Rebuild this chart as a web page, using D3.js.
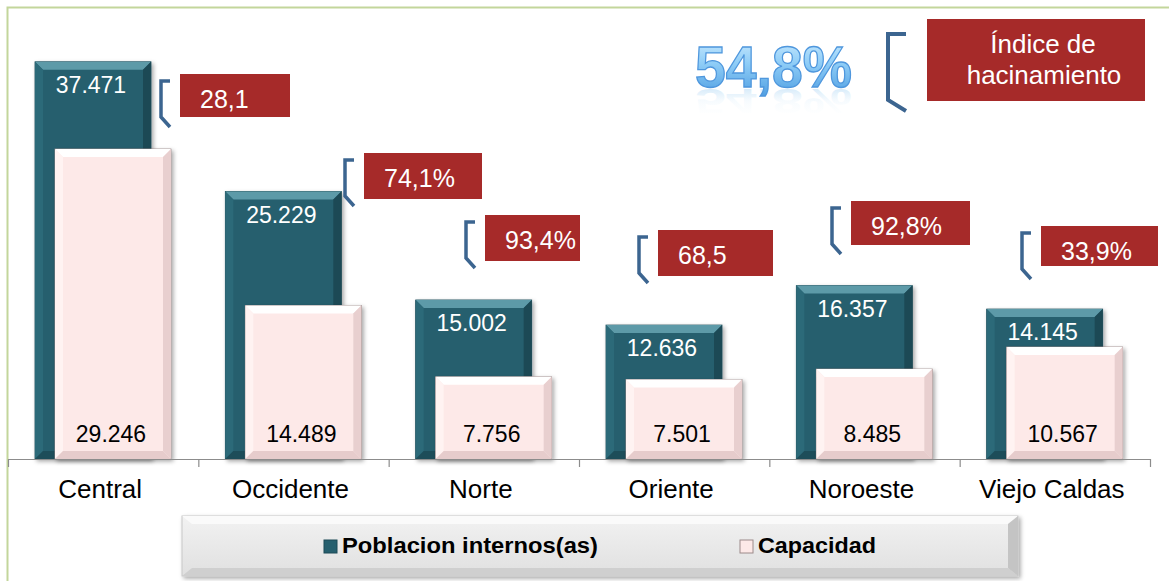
<!DOCTYPE html>
<html>
<head>
<meta charset="utf-8">
<script src="https://cdn.jsdelivr.net/npm/d3@7"></script>
<style>
  body { margin: 0; background: #fff; }
  svg { display: block; font-family: "Liberation Sans", Arial, sans-serif; }
</style>
</head>
<body>
<svg id="chart" width="1169" height="581"></svg>
<script>
// data
var categories = ['Central', 'Occidente', 'Norte', 'Oriente', 'Noroeste', 'Viejo Caldas'];
var poblacion = [37471, 25229, 15002, 12636, 16357, 14145];
var capacidad = [29246, 14489, 7756, 7501, 8485, 10567];
var hacinamiento = ['28,1', '74,1%', '93,4%', '68,5', '92,8%', '33,9%'];
var seriesNames = ['Poblacion internos(as)', 'Capacidad'];
var totalIndice = '54,8%';

// where the red call-out boxes sit (x, y, w, h) - layout, not data
var noteBoxes = [
  [180, 74, 110, 43],
  [364, 153, 118, 46],
  [485, 215, 95, 46],
  [658, 230, 115, 46],
  [851, 201, 119, 44],
  [1041, 226, 117, 40]
];

var fmt = function(v) { return d3.format(',')(v).replace(/,/g, '.'); };

var svg = d3.select('#chart');
var defs = svg.append('defs');

var x = d3.scaleBand().domain(categories).range([8, 1150]).padding(0);
var y = d3.scaleLinear().domain([0, 40000]).range([459, 35]);
var barW = 116, offset = 20, lead = 27;

// gradients
function lin(id, stops, x2, y2) {
  var g = defs.append('linearGradient').attr('id', id)
    .attr('x1', 0).attr('y1', 0).attr('x2', x2).attr('y2', y2);
  stops.forEach(function(s) { g.append('stop').attr('offset', s[0]).attr('stop-color', s[1]).attr('stop-opacity', s[2] == null ? 1 : s[2]); });
  return g;
}
lin('txtGrad', [[0, '#d2eeff'], [0.45, '#8fcdf7'], [1, '#4b9be0']], 0, 1);
lin('reflGrad', [[0, '#ffffff', 0], [0.5, '#a9d6f5', 0.1], [1, '#7fbdeb', 0.5]], 0, 1);
lin('legGrad', [[0, '#f2f2f2'], [1, '#e0e0e0']], 0, 1);
var sh = defs.append('filter').attr('id', 'shadow').attr('x', '-10%').attr('y', '-10%').attr('width', '130%').attr('height', '130%');
sh.append('feDropShadow').attr('dx', 2).attr('dy', 2).attr('stdDeviation', 2).attr('flood-color', '#000').attr('flood-opacity', 0.35);

// outer frame
svg.append('path').attr('d', 'M7.5,581 V7.5 H1169')
  .attr('fill', 'none').attr('stroke', '#c3d69b').attr('stroke-width', 2);

// bevelled bar
function bevelBar(g, x0, v, colors, bev) {
  var top = y(v), bot = y(0), w = barW;
  g.append('rect').attr('x', x0).attr('y', top).attr('width', w).attr('height', bot - top)
    .attr('fill', colors.face).attr('stroke', colors.stroke).attr('stroke-width', 0.8)
    .attr('filter', 'url(#shadow)');
  g.append('polygon').attr('points', [[x0, top], [x0 + w, top], [x0 + w - bev, top + bev], [x0 + bev, top + bev]].join(' '))
    .attr('fill', colors.top);
  g.append('polygon').attr('points', [[x0, top], [x0 + bev, top + bev], [x0 + bev, bot - bev], [x0, bot]].join(' '))
    .attr('fill', colors.left);
  g.append('polygon').attr('points', [[x0 + w, top], [x0 + w - bev, top + bev], [x0 + w - bev, bot - bev], [x0 + w, bot]].join(' '))
    .attr('fill', colors.right);
  g.append('polygon').attr('points', [[x0, bot], [x0 + bev, bot - bev], [x0 + w - bev, bot - bev], [x0 + w, bot]].join(' '))
    .attr('fill', colors.bottom);
}

var teal = { face: '#265f6e', stroke: '#1d4b57', top: '#5d9aa8', left: '#2c6a79', right: '#1c4955', bottom: '#1d4d59' };
var pink = { face: '#fde9e8', stroke: '#9c8a8a', top: '#ffffff', left: '#fff3f2', right: '#e8cfcf', bottom: '#e6cccc' };

var groups = svg.append('g').selectAll('g').data(categories).enter().append('g');
groups.each(function(c, i) {
  var g = d3.select(this);
  var bx = x(c) + lead;
  bevelBar(g, bx, poblacion[i], teal, 8);
  g.append('text').attr('x', bx + barW / 2 - 2).attr('y', y(poblacion[i]) + 31)
    .attr('text-anchor', 'middle').attr('font-size', 23).attr('fill', '#fff')
    .text(fmt(poblacion[i]));
  bevelBar(g, bx + offset, capacidad[i], pink, 8);
  g.append('text').attr('x', bx + offset + barW / 2 - 2).attr('y', y(0) - 17)
    .attr('text-anchor', 'middle').attr('font-size', 23).attr('fill', '#000')
    .text(fmt(capacidad[i]));
});

// category axis
var axis = svg.append('g');
axis.append('line').attr('x1', x.range()[0]).attr('x2', x.range()[1]).attr('y1', y(0) + 0.5).attr('y2', y(0) + 0.5)
  .attr('stroke', '#8c8c8c').attr('stroke-width', 1.2);
axis.selectAll('line.tick').data(d3.range(categories.length + 1)).enter().append('line')
  .attr('class', 'tick')
  .attr('x1', function(d) { return x.range()[0] + d * x.bandwidth() + 0.5; })
  .attr('x2', function(d) { return x.range()[0] + d * x.bandwidth() + 0.5; })
  .attr('y1', y(0)).attr('y2', y(0) + 8)
  .attr('stroke', '#8c8c8c').attr('stroke-width', 1.2);
axis.selectAll('text').data(categories).enter().append('text')
  .attr('x', function(d) { return x(d) + x.bandwidth() / 2 - 3; })
  .attr('y', 498).attr('text-anchor', 'middle').attr('font-size', 26).attr('fill', '#000')
  .text(function(d) { return d; });

// bracket shape
function bracket(g, bx, by, h) {
  g.append('path')
    .attr('d', 'M' + (bx + 11) + ',' + by + ' H' + (bx + 2) + ' V' + (by + h - 10) + ' L' + (bx + 11) + ',' + (by + h))
    .attr('fill', 'none').attr('stroke', '#3c6590').attr('stroke-width', 3.5);
}

// red call-outs
var notes = svg.append('g');
hacinamiento.forEach(function(t, i) {
  var b = noteBoxes[i];
  bracket(notes, b[0] - 21, b[1] + 7, 46);
  notes.append('rect').attr('x', b[0]).attr('y', b[1]).attr('width', b[2]).attr('height', b[3])
    .attr('fill', '#a62a29');
  notes.append('text').attr('x', b[0] + 20).attr('y', b[1] + 34)
    .attr('font-size', 25).attr('fill', '#fff').text(t);
});

// overall index with a squashed mirrored reflection
var idx = svg.append('g');
idx.append('text').attr('x', 695).attr('y', 87).attr('transform', 'translate(0,141) scale(1,-0.6)')
  .attr('font-size', 58).attr('font-weight', 'bold')
  .attr('textLength', 157).attr('lengthAdjust', 'spacingAndGlyphs')
  .attr('fill', 'url(#reflGrad)')
  .text(totalIndice);
idx.append('text').attr('x', 695).attr('y', 87).attr('font-size', 58).attr('font-weight', 'bold')
  .attr('textLength', 157).attr('lengthAdjust', 'spacingAndGlyphs')
  .attr('fill', 'url(#txtGrad)').attr('stroke', '#4f97dd').attr('stroke-width', 1.3)
  .text(totalIndice);
idx.append('path').attr('d', 'M906,34 H888 V100 L906,111')
  .attr('fill', 'none').attr('stroke', '#3c6590').attr('stroke-width', 4);
idx.append('rect').attr('x', 927).attr('y', 19).attr('width', 218).attr('height', 82).attr('fill', '#a62a29');
idx.append('text').attr('x', 1043).attr('y', 53).attr('text-anchor', 'middle').attr('font-size', 26).attr('fill', '#fff').text('Índice de');
idx.append('text').attr('x', 1044).attr('y', 84).attr('text-anchor', 'middle').attr('font-size', 26).attr('fill', '#fff').text('hacinamiento');

// legend
var leg = svg.append('g');
leg.append('rect').attr('x', 182).attr('y', 516).attr('width', 836).attr('height', 60)
  .attr('fill', 'url(#legGrad)').attr('stroke', '#c8c8c8').attr('filter', 'url(#shadow)');
leg.append('polygon').attr('points', '182,516 1018,516 1008,524 192,524').attr('fill', '#fafafa');
leg.append('polygon').attr('points', '182,576 1018,576 1008,568 192,568').attr('fill', '#cfcfcf');
leg.append('polygon').attr('points', '1018,516 1018,576 1008,568 1008,524').attr('fill', '#c4c4c4');
var legX = [324, 740], legW = [256, 118];
[teal, pink].forEach(function(col, i) {
  leg.append('rect').attr('x', legX[i]).attr('y', 540).attr('width', 13).attr('height', 13)
    .attr('fill', col.face).attr('stroke', i ? '#9c8a8a' : '#1d4b57');
  leg.append('text').attr('x', legX[i] + 18).attr('y', 553).attr('font-size', 22).attr('font-weight', 'bold')
    .attr('textLength', legW[i]).attr('lengthAdjust', 'spacingAndGlyphs')
    .attr('fill', '#000').text(seriesNames[i]);
});
</script>
</body>
</html>
